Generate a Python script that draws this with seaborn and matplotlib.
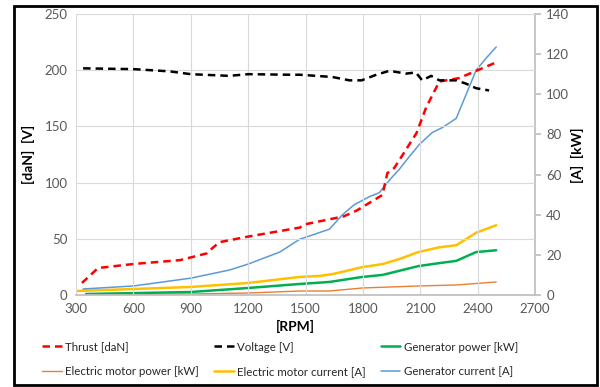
import matplotlib
matplotlib.use("Agg")
import matplotlib.pyplot as plt
import seaborn as sns
from matplotlib.patches import Rectangle

sns.set_theme(style="white")
plt.rcParams["font.family"] = ["Lato", "DejaVu Sans"]

# ---- data ----
# left axis: thrust [daN] and voltage [V]
thrust_rpm = [331, 415, 600, 843, 983, 1015, 1050, 1200, 1470, 1500, 1700, 1766, 1902,
              1928, 1964, 2080, 2131, 2200, 2235, 2303, 2372, 2497]
thrust = [10.7, 24, 27.6, 31, 37, 42, 47, 52, 60, 63, 70, 75, 89,
          108.5, 113, 144, 167, 190, 191, 193, 198, 207]

voltage_rpm = [337, 600, 790, 900, 1100, 1200, 1420, 1470, 1640, 1730, 1793, 1870, 1939,
               2025, 2077, 2110, 2157, 2200, 2288, 2340, 2392, 2460]
voltage = [201.7, 201, 199, 196.5, 195, 196.5, 196, 196, 194, 191, 191, 196, 199.5,
           197, 198, 191, 195, 191, 191, 188, 184, 182]

# right axis: [A] and [kW]
gen_current_rpm = [337, 600, 900, 1100, 1200, 1365, 1470, 1625, 1693, 1755, 1834, 1886, 1928,
                   1955, 1990, 2043, 2095, 2163, 2215, 2288, 2340, 2392, 2444, 2497]
gen_current = [3, 4.5, 8.4, 12.4, 15.4, 21.4, 27.8, 32.8, 40, 45, 49, 51, 56,
               59, 62.6, 69, 75, 81, 83.4, 88, 100, 112, 118, 123.6]

motor_current_rpm = [305, 600, 900, 1200, 1470, 1573, 1640, 1797, 1902, 1990, 2090, 2200,
                     2288, 2392, 2497]
motor_current = [2, 3, 4, 6, 9, 9.5, 10.4, 13.9, 15.4, 17.9, 21.4, 23.8, 24.8, 31, 34.8]

gen_power_rpm = [352, 900, 1200, 1470, 1625, 1797, 1902, 2090, 2200, 2288, 2392, 2497]
gen_power = [0.5, 1.5, 3.5, 5.5, 6.5, 9, 10, 14.4, 15.9, 17, 21.4, 22.3]

motor_power_rpm = [352, 900, 1200, 1470, 1625, 1797, 2090, 2288, 2497]
motor_power = [0.2, 0.5, 1, 2, 2, 3.5, 4.5, 5, 6.5]

x_ticks = [300, 600, 900, 1200, 1500, 1800, 2100, 2400, 2700]
left_ticks = [0, 50, 100, 150, 200, 250]
right_ticks = [0, 20, 40, 60, 80, 100, 120, 140]

# ---- figure ----
fig = plt.figure(figsize=(6, 3.87), dpi=100)
ax = fig.add_axes([0.1267, 0.2377, 0.765, 0.726])
ax2 = ax.twinx()

grey = "#595959"
grid_c = "#D9D9D9"

# right axis series first
sns.lineplot(x=motor_power_rpm, y=motor_power, ax=ax2, color="#ED7D31", lw=1.0,
             label="Electric motor power [kW]", legend=False)
sns.lineplot(x=motor_current_rpm, y=motor_current, ax=ax2, color="#FFC000", lw=1.8,
             label="Electric motor current [A]", legend=False)
sns.lineplot(x=gen_power_rpm, y=gen_power, ax=ax2, color="#00B050", lw=1.8,
             label="Generator power [kW]", legend=False)
sns.lineplot(x=gen_current_rpm, y=gen_current, ax=ax2, color="#5B9BD5", lw=1.1,
             label="Generator current [A]", legend=False)

# left axis series
sns.lineplot(x=thrust_rpm, y=thrust, ax=ax, color="#FF0000", lw=1.8, linestyle=(0, (3, 2)),
             label="Thrust [daN]", legend=False)
sns.lineplot(x=voltage_rpm, y=voltage, ax=ax, color="black", lw=1.8, linestyle=(0, (3, 2)),
             label="Voltage [V]", legend=False)

# draw left-axis lines on top of right-axis lines
ax.set_zorder(ax2.get_zorder() + 1)
ax.patch.set_visible(False)

ax.set_xlim(300, 2700)
ax.set_ylim(0, 250)
ax2.set_ylim(0, 140)
ax.set_xticks(x_ticks)
ax.set_yticks(left_ticks)
ax2.set_yticks(right_ticks)

ax.grid(True, color=grid_c, lw=0.8)
ax2.grid(False)
ax.set_axisbelow(True)

for a in (ax, ax2):
    for s in a.spines.values():
        s.set_visible(False)
ax.spines["bottom"].set_visible(True)
ax.spines["bottom"].set_color("#BFBFBF")
ax2.spines["right"].set_visible(True)
ax2.spines["right"].set_color("#BFBFBF")

ax.tick_params(axis="both", length=0, labelsize=9.5, labelcolor=grey, pad=6)
ax2.tick_params(axis="y", length=4, color="#BFBFBF", labelsize=9.5, labelcolor=grey, pad=4)

ax.set_xlabel("")
ax.set_ylabel("")
ax2.set_ylabel("")
fig.text(0.047, 0.6, "[daN]  [V]", rotation=90, ha="center", va="center",
         fontsize=10, fontweight="bold", color="black")
fig.text(0.963, 0.6, "[A]  [kW]", rotation=90, ha="center", va="center",
         fontsize=10, fontweight="bold", color="black")
fig.text(0.492, 0.157, "[RPM]", ha="center", va="center",
         fontsize=10, fontweight="bold", color="black")

# legend (column-wise fill)
h1, l1 = ax.get_legend_handles_labels()
h2, l2 = ax2.get_legend_handles_labels()
hd = dict(zip(l1 + l2, h1 + h2))
order = ["Thrust [daN]", "Electric motor power [kW]",
         "Voltage [V]", "Electric motor current [A]",
         "Generator power [kW]", "Generator current [A]"]
fig.legend([hd[k] for k in order], order, loc="center", bbox_to_anchor=(0.467, 0.072),
           ncol=3, frameon=False, fontsize=8.3, handlelength=1.7, handletextpad=0.3,
           columnspacing=1.3, labelspacing=1.15)

# outer frame
fig.patches.append(Rectangle((0.023, 0.005), 0.972, 0.98, transform=fig.transFigure,
                             fill=False, edgecolor="black", lw=2))

fig.savefig("out.png", dpi=100)
